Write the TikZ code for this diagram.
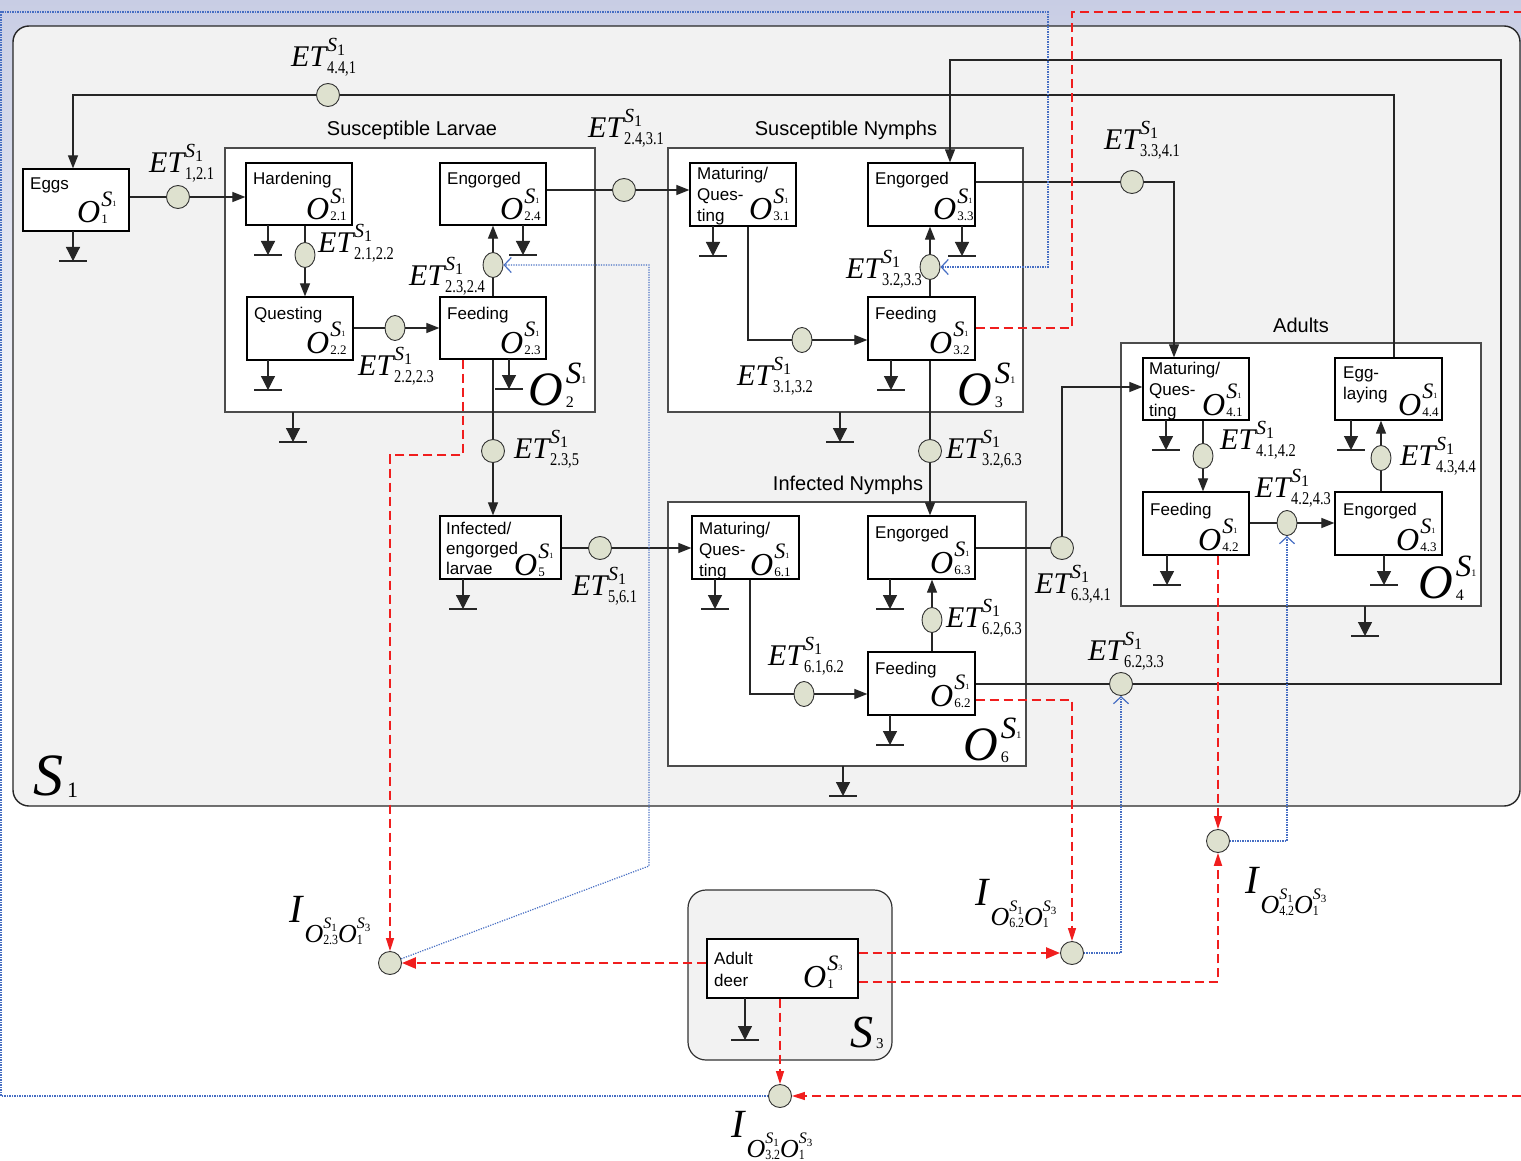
\documentclass[tikz,border=0pt]{standalone}
\usepackage{fontspec}
\usepackage{graphicx}
\setmainfont{Liberation Sans}
\newfontfamily\tms{Liberation Serif}
\usetikzlibrary{shapes.geometric,arrows.meta}
\definecolor{lav}{RGB}{200,205,228}
\definecolor{sgray}{RGB}{242,242,242}
\definecolor{cfill}{RGB}{222,225,207}
\definecolor{rline}{RGB}{240,30,30}
\definecolor{bline}{RGB}{70,110,195}
\newcommand{\fsz}[1]{\fontsize{#1}{#1}\selectfont}
\newcommand{\supsub}[4]{\setbox0\hbox{\raisebox{#2}{#1}}\setbox2\hbox{\raisebox{-#4}{#3}}\ifdim\wd0>\wd2 \rlap{\box2}\box0\else\rlap{\box0}\box2\fi}
\newcommand{\etlab}[1]{{\tms\itshape\fsz{30}ET}\kern1pt\supsub{{\tms\itshape\fsz{20}S}\raisebox{-4pt}{\tms\fsz{16}1}}{15pt}{\scalebox{0.8}[1]{\tms\fsz{18}#1}}{7pt}}
\newcommand{\obox}[2]{{\tms\itshape\fsz{32}O}\kern1pt\supsub{{\tms\itshape\fsz{22}S}{\tms\fsz{8}#1}}{17pt}{\tms\fsz{13}#2}{1pt}}
\newcommand{\ocont}[1]{{\tms\itshape\fsz{48}O}\kern3pt\supsub{{\tms\itshape\fsz{31}S}{\tms\fsz{10}1}}{22pt}{\tms\fsz{16}#1}{2pt}}
\newcommand{\oi}[2]{{\tms\itshape\fsz{26}O}\supsub{{\tms\itshape\fsz{16}S}\raisebox{-3pt}{\tms\fsz{11}#1}}{14pt}{\scalebox{0.85}[1]{\tms\fsz{14}#2}}{2pt}}
\newcommand{\ilab}[1]{{\tms\itshape\fsz{40}I}\kern2pt\raisebox{-20pt}{\oi{1}{#1}\oi{3}{1}}}
\newcommand{\bx}[6]{\node[#1, minimum width={(#4)-(#2)}, minimum height={(#5)-(#3)}] (#6) at ({((#2)+(#4))/2},{((#3)+(#5))/2}) {};}
\tikzset{pics/sink/.style={code={
  \draw[line width=1.2pt, draw=black!85, -{Triangle[length=14pt,width=14pt]}] (0,0) -- (0,#1);
  \draw[line width=1.6pt, draw=black!85] (-14,#1) -- (14,#1);}},
 pics/sink/.default=30}
\begin{document}
\begin{tikzpicture}[x=1pt,y=-1pt,
 conn/.style={draw=black!85, line width=1.2pt},
 arr/.style={conn, -{Triangle[length=13pt,width=10pt]}},
 circ/.style={ellipse, draw=black!80, fill=cfill, line width=0.9pt, minimum width=23pt, minimum height=23pt, inner sep=0pt},
 vcirc/.style={circ, minimum width=20pt, minimum height=25pt},
 sbox/.style={rectangle, draw=black, fill=white, line width=1.3pt, inner sep=0pt},
 cbox/.style={rectangle, draw=black!70, fill=white, line width=1.5pt, inner sep=0pt},
 btxt/.style={inner sep=0pt, anchor=north west, align=left, font=\fontsize{17}{21}\selectfont},
 ttl/.style={inner sep=0pt, anchor=base, font=\fontsize{20}{24}\selectfont},
 lab/.style={inner sep=0pt, anchor=base west},
 rdash/.style={draw=rline, line width=1.3pt, dash pattern=on 9pt off 5pt},
 rarr/.style={rdash, -{Triangle[length=13pt,width=8pt]}},
 rarrt/.style={rdash, line width=2.4pt, -{Triangle[length=14pt,width=11pt]}},
 barr/.style={draw=bline, line width=1.2pt, dash pattern=on 1.2pt off 1.3pt, -{Straight Barb[length=7pt,width=15pt]}},
]
% background
\fill[white] (0,0) rectangle (1521,1161);
\shade[top color=lav, bottom color=white] (0,0) rectangle (1521,520);
\useasboundingbox (0,0) rectangle (1521,1161);

% systems
\node[draw=black!85, fill=sgray, line width=1.4pt, rounded corners=16pt, minimum width=1507, minimum height=780, inner sep=0pt] (S1) at (766.5,416) {};
\node[draw=black!80, fill=sgray, line width=1.2pt, rounded corners=18pt, minimum width=204, minimum height=170, inner sep=0pt] (S3) at (790,975) {};
\node[lab] (S1l) at (33,795) {{\tms\itshape\fsz{60}S}\kern4pt\raisebox{-2pt}{\tms\fsz{22}1}};
\node[lab] (S3l) at (850,1047) {{\tms\itshape\fsz{46}S}\kern3pt\raisebox{-1pt}{\tms\fsz{15}3}};

% containers
\bx{cbox}{225}{148}{595}{412}{L2}
\bx{cbox}{668}{148}{1023}{412}{N3}
\bx{cbox}{668}{502}{1026}{766}{N6}
\bx{cbox}{1121}{343}{1481}{606}{A4}
\node[ttl] (tL) at (412,136) {Susceptible Larvae};
\node[ttl] (tN) at (846,136) {Susceptible Nymphs};
\node[ttl] (tI) at (848,490) {Infected Nymphs};
\node[ttl] (tA) at (1301,332) {Adults};
\node[lab] (oL2) at (528,405) {\ocont{2}};
\node[lab] (oN3) at (957,405) {\ocont{3}};
\node[lab] (oN6) at (963,760) {\ocont{6}};
\node[lab] (oA4) at (1418,598) {\ocont{4}};

% state boxes
\bx{sbox}{23}{169}{129}{231}{eggs}
\bx{sbox}{246}{163}{352}{225}{h21}
\bx{sbox}{440}{163}{546}{225}{e24}
\bx{sbox}{247}{297}{353}{360}{q22}
\bx{sbox}{440}{297}{546}{359}{f23}
\bx{sbox}{690}{163}{796}{226}{m31}
\bx{sbox}{868}{163}{975}{226}{e33}
\bx{sbox}{868}{297}{975}{360}{f32}
\bx{sbox}{440}{516}{561}{579}{i5}
\bx{sbox}{692}{516}{799}{579}{m61}
\bx{sbox}{868}{516}{975}{579}{e63}
\bx{sbox}{868}{652}{975}{715}{f62}
\bx{sbox}{1143}{358}{1249}{420}{m41}
\bx{sbox}{1335}{358}{1442}{420}{e44}
\bx{sbox}{1143}{492}{1249}{555}{f42}
\bx{sbox}{1335}{492}{1442}{555}{e43}
\bx{sbox}{707}{939}{858}{998}{deer}

% box texts
\node[btxt] (teggs) at (30,178) {Eggs};
\node[btxt] (th21) at (253,172) {Hardening};
\node[btxt] (te24) at (447,172) {Engorged};
\node[btxt] (tq22) at (254,307) {Questing};
\node[btxt] (tf23) at (447,307) {Feeding};
\node[btxt] (tm31) at (697,167) {Maturing/\\Ques-\\ting};
\node[btxt] (te33) at (875,172) {Engorged};
\node[btxt] (tf32) at (875,307) {Feeding};
\node[btxt, font=\fontsize{17}{20}\selectfont] (ti5) at (446,522) {Infected/\\engorged\\larvae};
\node[btxt] (tm61) at (699,522) {Maturing/\\Ques-\\ting};
\node[btxt] (te63) at (875,526) {Engorged};
\node[btxt] (tf62) at (875,662) {Feeding};
\node[btxt] (tm41) at (1149,362) {Maturing/\\Ques-\\ting};
\node[btxt] (te44) at (1343,367) {Egg-\\laying};
\node[btxt] (tf42) at (1150,503) {Feeding};
\node[btxt] (te43) at (1343,503) {Engorged};
\node[btxt, font=\fontsize{17}{22}\selectfont] (tdeer) at (714,952) {Adult\\deer};

% O labels in boxes
\node[lab] (oeggs) at (77,223) {\obox{1}{1}};
\node[lab] (oh21) at (306,220) {\obox{1}{2.1}};
\node[lab] (oe24) at (500,220) {\obox{1}{2.4}};
\node[lab] (oq22) at (306,353) {\obox{1}{2.2}};
\node[lab] (of23) at (500,353) {\obox{1}{2.3}};
\node[lab] (om31) at (749,220) {\obox{1}{3.1}};
\node[lab] (oe33) at (933,220) {\obox{1}{3.3}};
\node[lab] (of32) at (929,353) {\obox{1}{3.2}};
\node[lab] (oi5) at (514,575) {\obox{1}{5}};
\node[lab] (om61) at (750,575) {\obox{1}{6.1}};
\node[lab] (oe63) at (930,573) {\obox{1}{6.3}};
\node[lab] (of62) at (930,706) {\obox{1}{6.2}};
\node[lab] (om41) at (1202,415) {\obox{1}{4.1}};
\node[lab] (oe44) at (1398,415) {\obox{1}{4.4}};
\node[lab] (of42) at (1198,550) {\obox{1}{4.2}};
\node[lab] (oe43) at (1396,550) {\obox{1}{4.3}};
\node[lab] (odeer) at (803,987) {\obox{3}{1}};

% sinks
\pic at (73,231) {sink};
\pic at (268,225) {sink};
\pic at (268,360) {sink};
\pic at (523,225) {sink};
\pic at (509,359) {sink};
\pic at (293,412) {sink};
\pic at (713,226) {sink};
\pic at (962,226) {sink};
\pic at (891,360) {sink};
\pic at (840,412) {sink};
\pic at (463,579) {sink};
\pic at (715,579) {sink};
\pic at (890,579) {sink};
\pic at (890,715) {sink};
\pic at (843,766) {sink};
\pic at (1166,420) {sink};
\pic at (1351,420) {sink};
\pic at (1167,555) {sink};
\pic at (1384,555) {sink};
\pic at (1365,606) {sink};
\pic at (745,998) {sink=42};

% transition circles
\node[circ] (c441) at (328,95) {};
\node[circ] (c121) at (178,197) {};
\node[vcirc] (c2122) at (305,255) {};
\node[vcirc] (c2223) at (395,328) {};
\node[vcirc] (c2324) at (493,265) {};
\node[circ] (c2431) at (624,190) {};
\node[vcirc] (c3132) at (802,340) {};
\node[vcirc] (c3233) at (930,267) {};
\node[circ] (c3341) at (1132,182) {};
\node[circ] (c235) at (493,451) {};
\node[circ] (c3263) at (930,451) {};
\node[circ] (c561) at (600,548) {};
\node[vcirc] (c6162) at (804,694) {};
\node[vcirc] (c6263) at (932,620) {};
\node[circ] (c6341) at (1062,548) {};
\node[circ] (c6233) at (1121,684) {};
\node[vcirc] (c4142) at (1203,456) {};
\node[vcirc] (c4243) at (1287,523) {};
\node[vcirc] (c4344) at (1381,458) {};
\node[circ] (i23) at (390,963) {};
\node[circ] (i62) at (1072,953) {};
\node[circ] (i42) at (1218,841) {};
\node[circ] (i32) at (780,1096) {};

% ET labels
\node[lab] (l441) at (291,67) {\etlab{4.4,1}};
\node[lab] (l121) at (149,173) {\etlab{1,2.1}};
\node[lab] (l2122) at (318,253) {\etlab{2.1,2.2}};
\node[lab] (l2324) at (409,285) {\etlab{2.3,2.4}};
\node[lab] (l2223) at (358,375) {\etlab{2.2,2.3}};
\node[lab] (l2431) at (588,138) {\etlab{2.4,3.1}};
\node[lab] (l3132) at (737,385) {\etlab{3.1,3.2}};
\node[lab] (l3233) at (846,278) {\etlab{3.2,3.3}};
\node[lab] (l3341) at (1104,150) {\etlab{3.3,4.1}};
\node[lab] (l235) at (514,458) {\etlab{2.3,5}};
\node[lab] (l3263) at (946,458) {\etlab{3.2,6.3}};
\node[lab] (l561) at (572,595) {\etlab{5,6.1}};
\node[lab] (l6162) at (768,665) {\etlab{6.1,6.2}};
\node[lab] (l6263) at (946,627) {\etlab{6.2,6.3}};
\node[lab] (l6341) at (1035,593) {\etlab{6.3,4.1}};
\node[lab] (l6233) at (1088,660) {\etlab{6.2,3.3}};
\node[lab] (l4142) at (1220,449) {\etlab{4.1,4.2}};
\node[lab] (l4243) at (1255,497) {\etlab{4.2,4.3}};
\node[lab] (l4344) at (1400,465) {\etlab{4.3,4.4}};

% I labels
\node[lab] (li23) at (289,922) {\ilab{2.3}};
\node[lab] (li62) at (975,905) {\ilab{6.2}};
\node[lab] (li42) at (1245,893) {\ilab{4.2}};
\node[lab] (li32) at (731,1137) {\ilab{3.2}};

% black connectors
\coordinate (k1) at (1174,182);
\coordinate (k2) at (1062,387);
\coordinate (k3) at (1501,684);
\coordinate (k4) at (1501,60);
\coordinate (k5) at (950,60);
\coordinate (k6) at (1394,95);
\coordinate (k7) at (73,95);
\coordinate (k8) at (748,340);
\coordinate (k9) at (750,694);
\draw[conn] (e44.north -| k6) -- (k6) -- (c441);
\draw[arr] (c441) -- (k7) -- (eggs.north -| k7);
\draw[conn] (eggs.east |- c121) -- (c121);
\draw[arr] (c121) -- (h21.west |- c121);
\draw[conn] (h21.south -| c2122) -- (c2122);
\draw[arr] (c2122) -- (q22.north -| c2122);
\draw[conn] (q22.east |- c2223) -- (c2223);
\draw[arr] (c2223) -- (f23.west |- c2223);
\draw[conn] (f23.north -| c2324) -- (c2324);
\draw[arr] (c2324) -- (e24.south -| c2324);
\draw[conn] (e24.east |- c2431) -- (c2431);
\draw[arr] (c2431) -- (m31.west |- c2431);
\draw[conn] (m31.south -| k8) -- (k8) -- (c3132);
\draw[arr] (c3132) -- (f32.west |- c3132);
\draw[conn] (f32.north -| c3233) -- (c3233);
\draw[arr] (c3233) -- (e33.south -| c3233);
\draw[conn] (e33.east |- c3341) -- (c3341);
\draw[arr] (c3341) -- (k1) -- (m41.north -| k1);
\draw[conn] (f23.south -| c235) -- (c235);
\draw[arr] (c235) -- (i5.north -| c235);
\draw[conn] (f32.south -| c3263) -- (c3263);
\draw[arr] (c3263) -- (e63.north -| c3263);
\draw[conn] (i5.east |- c561) -- (c561);
\draw[arr] (c561) -- (m61.west |- c561);
\draw[conn] (m61.south -| k9) -- (k9) -- (c6162);
\draw[arr] (c6162) -- (f62.west |- c6162);
\draw[conn] (f62.north -| c6263) -- (c6263);
\draw[arr] (c6263) -- (e63.south -| c6263);
\draw[conn] (e63.east |- c6341) -- (c6341);
\draw[arr] (c6341) -- (k2) -- (m41.west |- k2);
\draw[conn] (f62.east |- c6233) -- (c6233);
\draw[arr] (c6233) -- (k3) -- (k4) -- (k5) -- (e33.north -| k5);
\draw[conn] (m41.south -| c4142) -- (c4142);
\draw[arr] (c4142) -- (f42.north -| c4142);
\draw[conn] (f42.east |- c4243) -- (c4243);
\draw[arr] (c4243) -- (e43.west |- c4243);
\draw[conn] (e43.north -| c4344) -- (c4344);
\draw[arr] (c4344) -- (e44.south -| c4344);

% red dashed (infection flows)
\coordinate (r1a) at (1072,328);
\coordinate (r1b) at (1072,12);
\coordinate (r1c) at (1521,12);
\coordinate (r2a) at (1521,1096);
\coordinate (r3a) at (463,455);
\coordinate (r4a) at (1072,700);
\coordinate (r8a) at (1218,982);
\draw[rdash] (f32.east |- r1a) -- (r1a) -- (r1b) -- (r1c);
\draw[rarr] (r2a) -- (i32);
\draw[rarr] (f23.south -| r3a) -- (r3a) -- (i23 |- r3a) -- (i23);
\draw[rarr] (f62.east |- r4a) -- (r4a) -- (i62);
\draw[rarr] (f42.south -| i42) -- (i42);
\draw[rarrt] (deer.west |- i23) -- (i23);
\draw[rarrt] (deer.east |- i62) -- (i62);
\draw[rarr, line width=1.8pt] (deer.east |- r8a) -- (r8a) -- (i42);
\draw[rarr] (deer.south -| i32) -- (i32);

% blue dotted (influence)
\coordinate (b1a) at (1,1096);
\coordinate (b1b) at (1,12);
\coordinate (b1c) at (1048,12);
\coordinate (b1d) at (1048,267);
\coordinate (b2a) at (649,866);
\coordinate (b2b) at (649,265);
\draw[barr] (i32) -- (b1a) -- (b1b) -- (b1c) -- (b1d) -- (c3233);
\draw[barr] (i23) -- (b2a) -- (b2b) -- (c2324);
\draw[barr] (i62) -- (c6233 |- i62) -- (c6233);
\draw[barr] (i42) -- (c4243 |- i42) -- (c4243);
\end{tikzpicture}
\end{document}
